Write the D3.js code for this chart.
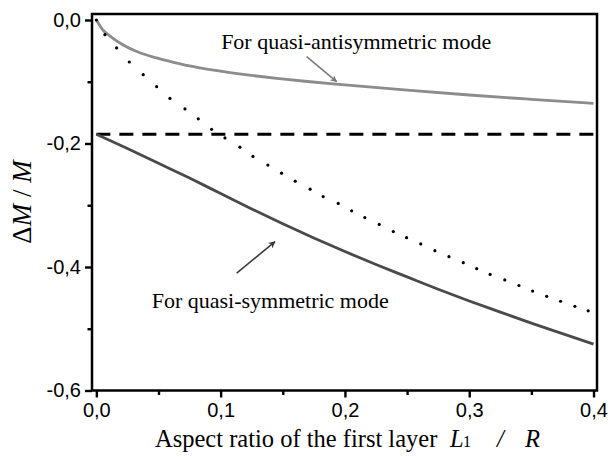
<!DOCTYPE html>
<html><head><meta charset="utf-8">
<script src="https://cdn.jsdelivr.net/npm/d3@7"></script>
<style>
html,body{margin:0;padding:0;background:#fff;}
svg{display:block;}
text{white-space:pre;}
</style></head>
<body>
<svg id="c" width="611" height="457"></svg>
<script>
// ---- data ----
const antisymX = [0, 0.0056, 0.011, 0.022, 0.035, 0.0485, 0.062, 0.075, 0.0914, 0.118, 0.145, 0.172, 0.2, 0.25, 0.3, 0.35, 0.4];
const antisymY = [0, -0.017, -0.026, -0.041, -0.053, -0.0615, -0.0685, -0.0745, -0.0805, -0.088, -0.0945, -0.100, -0.105, -0.1135, -0.1215, -0.1285, -0.135];

const symX = [0, 0.025, 0.05, 0.075, 0.1, 0.125, 0.15, 0.175, 0.2, 0.225, 0.25, 0.275, 0.3, 0.325, 0.35, 0.375, 0.4];
const symY = [-0.185, -0.208, -0.232, -0.256, -0.281, -0.306, -0.330, -0.353, -0.375, -0.396, -0.416, -0.436, -0.455, -0.473, -0.491, -0.508, -0.525];

const dotX = [0, 0.0069, 0.0163, 0.0265, 0.0377, 0.0485, 0.0592, 0.0713, 0.082, 0.0927, 0.1035, 0.1155, 0.126, 0.138, 0.149, 0.16, 0.172, 0.1825, 0.1946, 0.2054, 0.216, 0.2276, 0.2389, 0.2496, 0.261, 0.2724, 0.2837, 0.2952, 0.306, 0.3168, 0.3286, 0.34, 0.351, 0.3623, 0.3735, 0.385, 0.3957];
const dotY = [0, -0.0238, -0.0453, -0.068, -0.0886, -0.108, -0.127, -0.144, -0.160, -0.177, -0.191, -0.206, -0.221, -0.235, -0.248, -0.261, -0.274, -0.286, -0.297, -0.309, -0.320, -0.331, -0.3427, -0.3525, -0.3627, -0.3735, -0.3833, -0.393, -0.4027, -0.412, -0.421, -0.430, -0.439, -0.4475, -0.4555, -0.4637, -0.471];

const dashX = [0, 0.4];
const dashY = [-0.185, -0.185];

const xTicks = [0, 0.1, 0.2, 0.3, 0.4];
const xTickLabels = ["0,0", "0,1", "0,2", "0,3", "0,4"];
const xMinor = [0.05, 0.15, 0.25, 0.35];
const yTicks = [0, -0.2, -0.4, -0.6];
const yTickLabels = ["0,0", "-0,2", "-0,4", "-0,6"];
const yMinor = [-0.1, -0.3, -0.5];

const antisymLabel = "For quasi-antisymmetric mode";
const symLabel = "For quasi-symmetric mode";
const antisymLabelPos = [0.1004, -0.047];
const symLabelPos = [0.0445, -0.4664];
const antisymArrow = [[0.1692, -0.0594], [0.1933, -0.0999]];
const symArrow = [[0.1129, -0.410], [0.1437, -0.359]];

// ---- scales ----
const svg = d3.select("#c");
const x = d3.scaleLinear().domain([-0.0035, 0.4028]).range([92, 597]);
const y = d3.scaleLinear().domain([-0.6, 0.0097]).range([390.5, 14]);

const defs = svg.append("defs");
function marker(id, color) {
  defs.append("marker").attr("id", id).attr("viewBox", "0 0 10 10")
    .attr("refX", 9).attr("refY", 5).attr("markerWidth", 9).attr("markerHeight", 7)
    .attr("markerUnits", "userSpaceOnUse").attr("orient", "auto")
    .append("path").attr("d", "M0,0 L10,5 L0,10 L3,5 Z").attr("fill", color);
}
marker("ahGray", "#7a7a7a");
marker("ahDark", "#3a3a3a");

const line = d3.line().x(d => x(d[0])).y(d => y(d[1])).curve(d3.curveMonotoneX);
const zip = (a, b) => a.map((v, i) => [v, b[i]]);

// dashed
svg.append("path").datum(zip(dashX, dashY)).attr("d", d3.line().x(d => x(d[0])).y(d => y(d[1])))
  .attr("fill", "none").attr("stroke", "#000").attr("stroke-width", 2.8).attr("stroke-dasharray", "14,9");

// antisym
svg.append("path").datum(zip(antisymX, antisymY)).attr("d", line)
  .attr("fill", "none").attr("stroke", "#8c8c8c").attr("stroke-width", 2.8);
// sym
svg.append("path").datum(zip(symX, symY)).attr("d", line)
  .attr("fill", "none").attr("stroke", "#4a4a4a").attr("stroke-width", 2.8);
// dotted
svg.append("g").selectAll("circle").data(zip(dotX, dotY)).join("circle")
  .attr("cx", d => x(d[0])).attr("cy", d => y(d[1])).attr("r", 1.6).attr("fill", "#000");

// frame
svg.append("rect").attr("x", x.range()[0]).attr("y", y.range()[1])
  .attr("width", x.range()[1] - x.range()[0]).attr("height", y.range()[0] - y.range()[1])
  .attr("fill", "none").attr("stroke", "#000").attr("stroke-width", 2.5);

// axes
const tickFont = "'Liberation Sans', Arial, sans-serif";
const gx = svg.append("g").attr("transform", `translate(0,${y.range()[0]})`)
  .call(d3.axisBottom(x).tickValues(xTicks).tickFormat((d, i) => xTickLabels[i]).tickSize(7).tickSizeOuter(0).tickPadding(5));
const gxm = svg.append("g").attr("transform", `translate(0,${y.range()[0]})`)
  .call(d3.axisBottom(x).tickValues(xMinor).tickFormat("").tickSize(4.5).tickSizeOuter(0));
const gy = svg.append("g").attr("transform", `translate(${x.range()[0]},0)`)
  .call(d3.axisLeft(y).tickValues(yTicks).tickFormat((d, i) => yTickLabels[i]).tickSize(7).tickSizeOuter(0).tickPadding(4));
const gym = svg.append("g").attr("transform", `translate(${x.range()[0]},0)`)
  .call(d3.axisLeft(y).tickValues(yMinor).tickFormat("").tickSize(4.5).tickSizeOuter(0));
[gx, gxm, gy, gym].forEach(g => {
  g.select(".domain").remove();
  g.selectAll(".tick line").attr("stroke", "#000").attr("stroke-width", 2.4);
  g.selectAll(".tick text").attr("font-family", tickFont).attr("font-size", 20).attr("fill", "#000");
});

// annotations
const serif = "'Liberation Serif', 'Times New Roman', serif";
svg.append("text").attr("x", x(antisymLabelPos[0])).attr("y", y(antisymLabelPos[1]))
  .attr("font-family", serif).attr("font-size", 22).attr("fill", "#000").text(antisymLabel);
svg.append("text").attr("x", x(symLabelPos[0])).attr("y", y(symLabelPos[1]))
  .attr("font-family", serif).attr("font-size", 22).attr("fill", "#000").text(symLabel);
svg.append("line").attr("x1", x(antisymArrow[0][0])).attr("y1", y(antisymArrow[0][1]))
  .attr("x2", x(antisymArrow[1][0])).attr("y2", y(antisymArrow[1][1]))
  .attr("stroke", "#7a7a7a").attr("stroke-width", 1.6).attr("marker-end", "url(#ahGray)");
svg.append("line").attr("x1", x(symArrow[0][0])).attr("y1", y(symArrow[0][1]))
  .attr("x2", x(symArrow[1][0])).attr("y2", y(symArrow[1][1]))
  .attr("stroke", "#3a3a3a").attr("stroke-width", 1.6).attr("marker-end", "url(#ahDark)");

// x title
const xt = svg.append("text").attr("y", 447).attr("font-family", serif).attr("font-size", 24.5).attr("fill", "#000");
xt.append("tspan").attr("x", 155).text("Aspect ratio of the first layer");
xt.append("tspan").attr("x", 450).attr("font-style", "italic").text("L");
xt.append("tspan").attr("x", 463).attr("font-size", 16).text("1");
xt.append("tspan").attr("x", 497).attr("font-style", "italic").text("/");
xt.append("tspan").attr("x", 525).attr("font-style", "italic").text("R");

// y title
const yt = svg.append("text").attr("transform", "translate(31,202) rotate(-90)")
  .attr("text-anchor", "middle").attr("font-family", serif).attr("font-size", 27).attr("fill", "#000");
yt.append("tspan").text("\u0394");
yt.append("tspan").attr("font-style", "italic").text("M");
yt.append("tspan").text(" / ");
yt.append("tspan").attr("font-style", "italic").text("M");
</script>
</body></html>
